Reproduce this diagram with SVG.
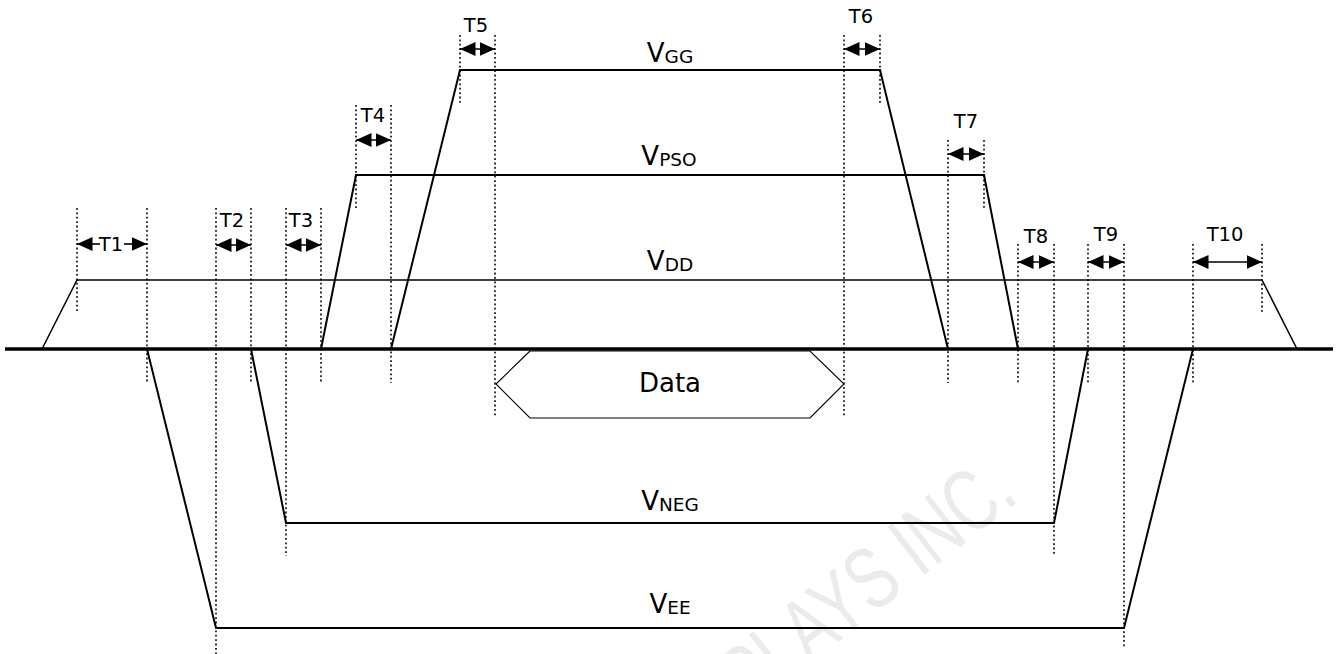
<svg xmlns="http://www.w3.org/2000/svg" width="1338" height="654" viewBox="0 0 1338 654">
<style>
  .wm { font-family: "Liberation Sans", Arial, sans-serif; font-size: 88px; fill: #ebebeb; }
  .lbl { font-family: "DejaVu Sans", Verdana, sans-serif; font-size: 19.5px; fill: #000; text-anchor: middle; }
  .vl { font-family: "DejaVu Sans", Verdana, sans-serif; font-size: 26px; fill: #000; text-anchor: middle; }
  .sub { font-size: 18.5px; }
  .data { font-family: "DejaVu Sans", Verdana, sans-serif; font-size: 26px; fill: #000; text-anchor: middle; }
  .dot { stroke: #000; stroke-width: 1.6; stroke-dasharray: 1.8 2.6; fill: none; }
  .wave { stroke: #000; stroke-width: 2; fill: none; stroke-linejoin: miter; }
  .thin { stroke: #000; stroke-width: 1.5; fill: none; }
  .base { stroke: #000; stroke-width: 3.5; fill: none; }
  .hex { stroke: #000; stroke-width: 1.1; fill: none; }
  .arr { stroke: #000; stroke-width: 1.6; fill: none; marker-start: url(#ah); marker-end: url(#ah); }
  .arrS { stroke: #000; stroke-width: 1.6; fill: none; marker-start: url(#ah); }
  .arrE { stroke: #000; stroke-width: 1.6; fill: none; marker-end: url(#ah); }
</style>
<defs>
  <marker id="ah" markerUnits="userSpaceOnUse" markerWidth="16" markerHeight="14" refX="15.5" refY="7" orient="auto-start-reverse" viewBox="0 0 16 14">
    <path d="M0,0 L15.5,7 L0,14 z" fill="#000"/>
  </marker>
</defs>
<rect width="1338" height="654" fill="#fff"/>
<text class="wm" transform="translate(1020,500) rotate(-38) scale(0.72,1)" text-anchor="end">DISPLAYS INC.</text>

<g id="guides">
  <line class="dot" x1="77" y1="208" x2="77" y2="313"/>
  <line class="dot" x1="147" y1="208" x2="147" y2="383"/>
  <line class="dot" x1="216" y1="208" x2="216" y2="654"/>
  <line class="dot" x1="251" y1="208" x2="251" y2="383"/>
  <line class="dot" x1="286" y1="208" x2="286" y2="556"/>
  <line class="dot" x1="321" y1="208" x2="321" y2="383"/>
  <line class="dot" x1="356" y1="105" x2="356" y2="210"/>
  <line class="dot" x1="391" y1="105" x2="391" y2="383"/>
  <line class="dot" x1="460" y1="35" x2="460" y2="105"/>
  <line class="dot" x1="495" y1="35" x2="495" y2="417"/>
  <line class="dot" x1="844" y1="35" x2="844" y2="417"/>
  <line class="dot" x1="880" y1="35" x2="880" y2="105"/>
  <line class="dot" x1="948" y1="140" x2="948" y2="383"/>
  <line class="dot" x1="984" y1="140" x2="984" y2="210"/>
  <line class="dot" x1="1018" y1="244" x2="1018" y2="383"/>
  <line class="dot" x1="1054" y1="244" x2="1054" y2="556"/>
  <line class="dot" x1="1088" y1="244" x2="1088" y2="383"/>
  <line class="dot" x1="1124" y1="244" x2="1124" y2="648"/>
  <line class="dot" x1="1193" y1="244" x2="1193" y2="383"/>
  <line class="dot" x1="1262" y1="244" x2="1262" y2="313"/>
</g>

<g id="baseline">
  <line class="base" x1="5" y1="349" x2="1333" y2="349"/>
</g>

<g id="vdd">
  <polyline class="thin" points="42,349 77,280 1262,280 1297,349"/>
  <text class="vl" x="670" y="270">V<tspan class="sub" dy="1">DD</tspan></text>
</g>
<g id="vpso">
  <polyline class="wave" points="321,349 356,175 984,175 1018,349"/>
  <text class="vl" x="669" y="165">V<tspan class="sub" dy="1">PSO</tspan></text>
</g>
<g id="vgg">
  <polyline class="wave" points="391,349 460,70 880,70 948,349"/>
  <text class="vl" x="670" y="62">V<tspan class="sub" dy="1">GG</tspan></text>
</g>
<g id="vneg">
  <polyline class="wave" points="251,349 286,523 1054,523 1088,349"/>
  <text class="vl" x="670" y="510">V<tspan class="sub" dy="1">NEG</tspan></text>
</g>
<g id="vee">
  <polyline class="wave" points="147,349 216,628 1124,628 1193,349"/>
  <text class="vl" x="670" y="613">V<tspan class="sub" dy="1">EE</tspan></text>
</g>
<g id="data">
  <polygon class="hex" points="530,351 496,384 530,418 810,418 844,384 810,351"/>
  <text class="data" x="670" y="392">Data</text>
</g>

<g id="connectors">
  <line class="arrS" x1="77" y1="244" x2="100" y2="244"/>
  <line class="arrE" x1="124" y1="244" x2="147" y2="244"/>
  <line class="arr" x1="216" y1="245" x2="251" y2="245"/>
  <line class="arr" x1="286" y1="245" x2="321" y2="245"/>
  <line class="arr" x1="356" y1="140" x2="391" y2="140"/>
  <line class="arr" x1="460" y1="49" x2="495" y2="49"/>
  <line class="arr" x1="844" y1="49" x2="880" y2="49"/>
  <line class="arr" x1="948" y1="154" x2="984" y2="154"/>
  <line class="arr" x1="1018" y1="262" x2="1054" y2="262"/>
  <line class="arr" x1="1088" y1="262" x2="1124" y2="262"/>
  <line class="arr" x1="1193" y1="262" x2="1262" y2="262"/>
</g>

<g id="labels">
  <text class="lbl" x="111" y="251">T1</text>
  <text class="lbl" x="232" y="227">T2</text>
  <text class="lbl" x="301" y="227">T3</text>
  <text class="lbl" x="373" y="122">T4</text>
  <text class="lbl" x="476" y="32">T5</text>
  <text class="lbl" x="861" y="23">T6</text>
  <text class="lbl" x="966" y="128">T7</text>
  <text class="lbl" x="1036" y="243">T8</text>
  <text class="lbl" x="1106" y="241">T9</text>
  <text class="lbl" x="1225" y="241">T10</text>
</g>
</svg>
